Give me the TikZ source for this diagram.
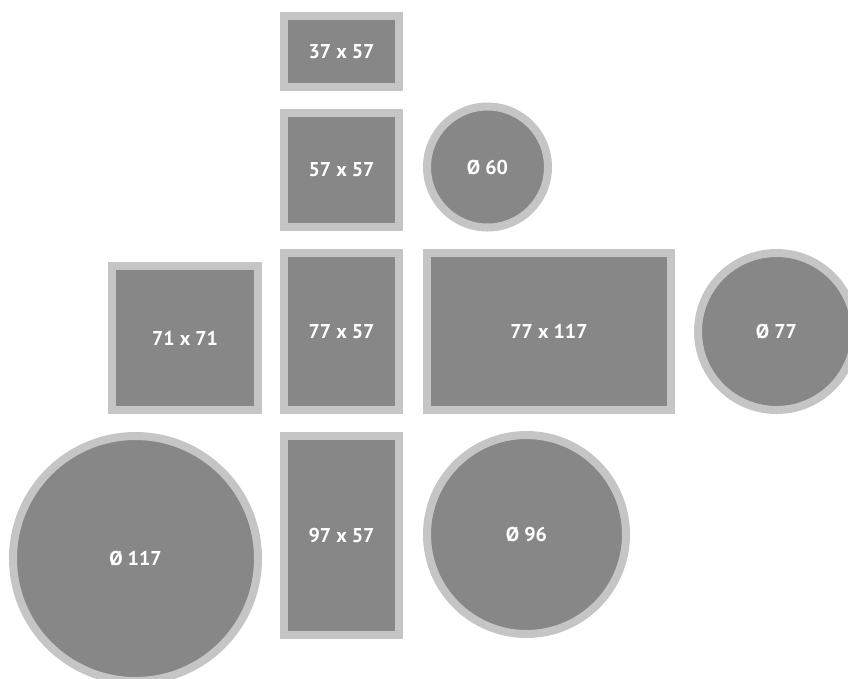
\documentclass[tikz,border=0pt]{standalone}
\usepackage{fontspec}
\setmainfont{PT Sans}
\definecolor{rim}{HTML}{C5C5C5}
\definecolor{face}{HTML}{878787}
\begin{document}
\begin{tikzpicture}[x=1pt,y=-1pt,
  frame/.style={draw=rim,fill=face,line width=8pt,inner sep=0pt,outer sep=0pt,
    text=white,font=\fontsize{20}{20}\selectfont\bfseries},
  boxframe/.style={frame,rectangle},
  roundframe/.style={frame,circle}]
\useasboundingbox (0,0) rectangle (848,678);
\clip (0,0) rectangle (848,678);
\node[boxframe,minimum width=115pt,minimum height=71pt] (a3757) at (341.5,51.5) {37 x 57};
\node[boxframe,minimum width=115pt,minimum height=114pt] (a5757) at (341.5,170) {57 x 57};
\node[roundframe,minimum size=121pt] (c60) at (487.5,167) {Ø 60};
\node[boxframe,minimum width=146pt,minimum height=144pt] (a7171) at (185,338) {71 x 71};
\node[boxframe,minimum width=115pt,minimum height=157pt] (a7757) at (341.5,331.5) {77 x 57};
\node[boxframe,minimum width=244pt,minimum height=157pt] (a77117) at (549,331.5) {77 x 117};
\node[roundframe,minimum size=157pt] (c77) at (776.5,331.5) {Ø 77};
\node[roundframe,minimum size=245pt] (c117) at (135.5,558.5) {Ø 117};
\node[boxframe,minimum width=115pt,minimum height=199pt] (a9757) at (341.5,535.5) {97 x 57};
\node[roundframe,minimum size=199pt] (c96) at (526.5,534.5) {Ø 96};
\end{tikzpicture}
\end{document}
